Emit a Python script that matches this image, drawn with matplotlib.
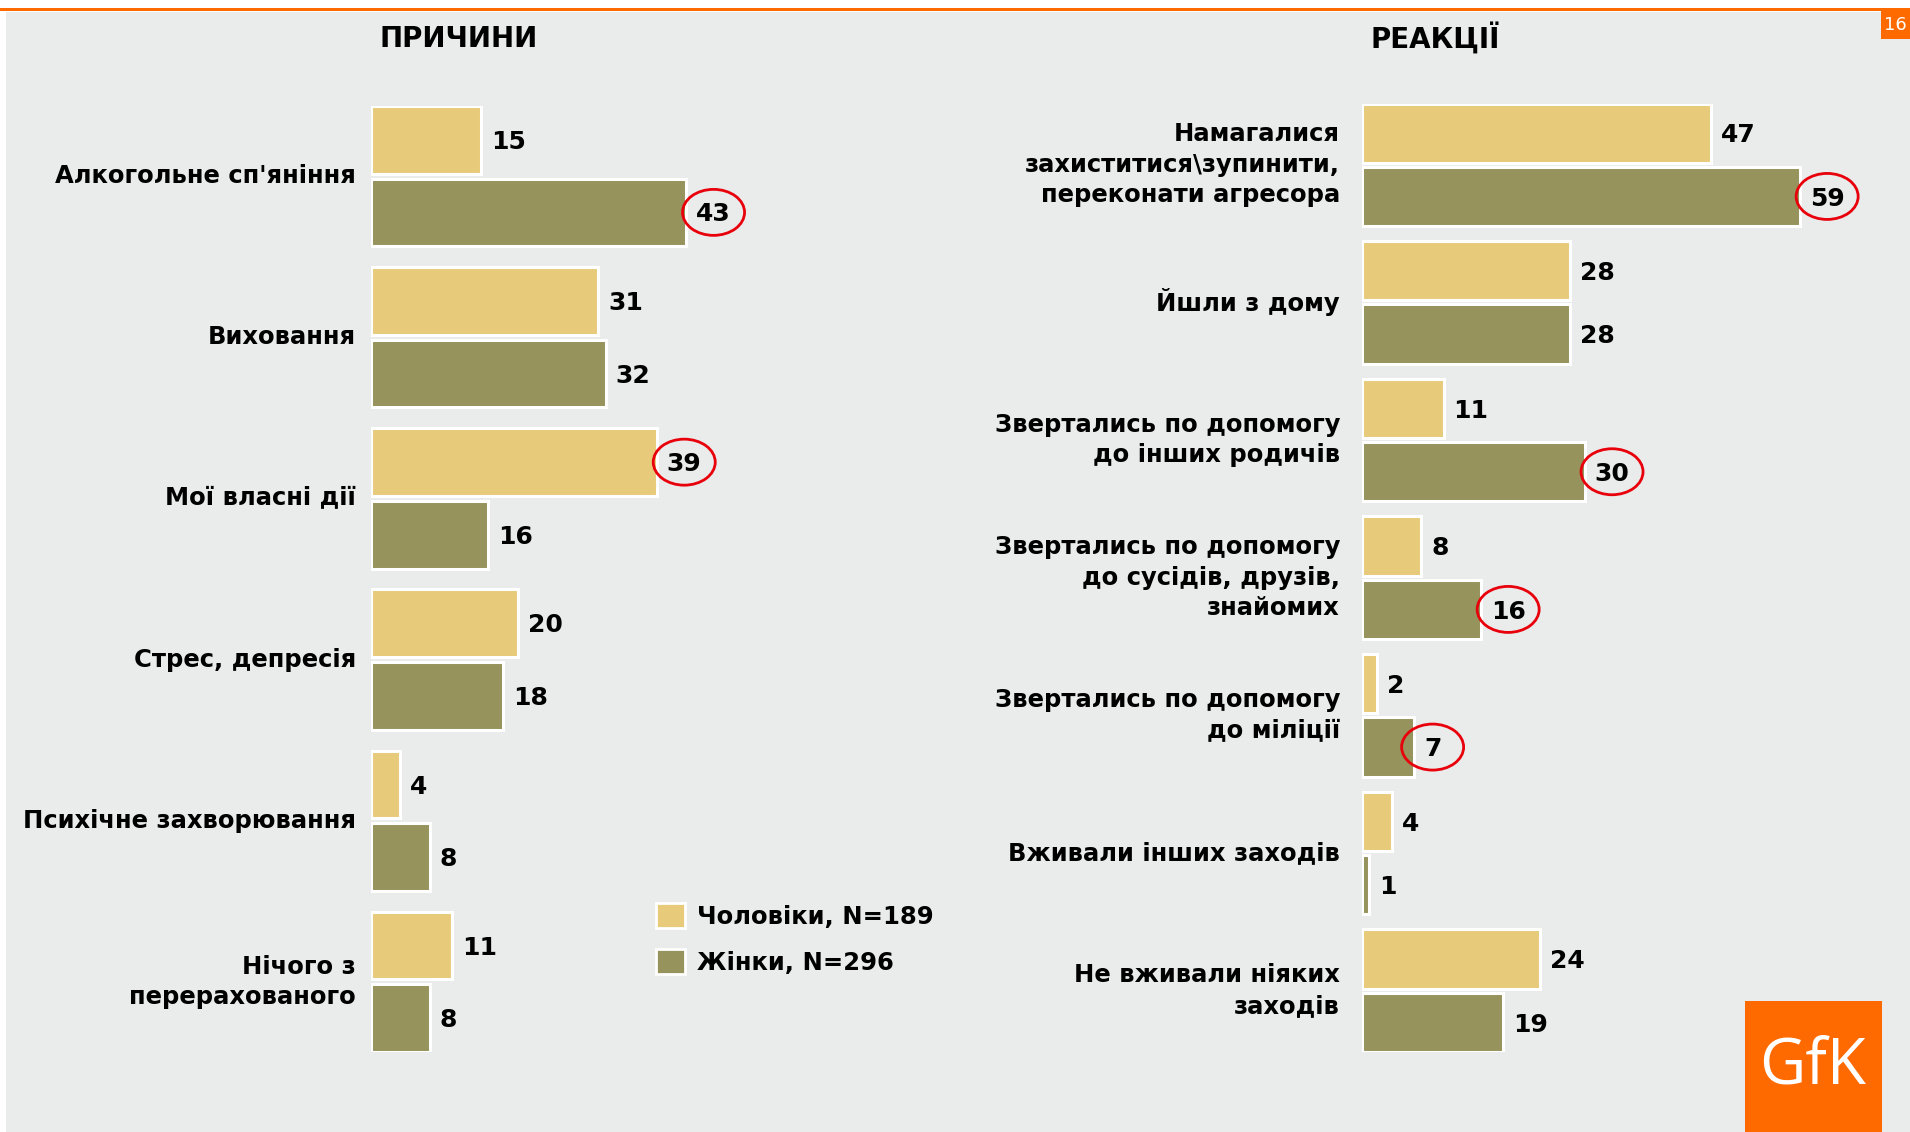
import matplotlib
matplotlib.use("Agg")
import matplotlib.pyplot as plt
from matplotlib.patches import Rectangle, Ellipse, Patch
from matplotlib.transforms import ScaledTranslation

plt.rcParams['font.family'] = ['DejaVu Sans']

# ---------------- data ----------------
left_title = "ПРИЧИНИ"
left_categories = ["Алкогольне сп'яніння", "Виховання", "Мої власні дії",
                   "Стрес, депресія", "Психічне захворювання",
                   "Нічого з\nперерахованого"]
left_men = [15, 31, 39, 20, 4, 11]
left_women = [43, 32, 16, 18, 8, 8]
left_highlight = [("women", 0), ("men", 2)]

right_title = "РЕАКЦІЇ"
right_categories = ["Намагалися\nзахиститися\\зупинити,\nпереконати агресора",
                    "Йшли з дому",
                    "Звертались по допомогу\nдо інших родичів",
                    "Звертались по допомогу\nдо сусідів, друзів,\nзнайомих",
                    "Звертались по допомогу\nдо міліції",
                    "Вживали інших заходів",
                    "Не вживали ніяких\nзаходів"]
right_men = [47, 28, 11, 8, 2, 4, 24]
right_women = [59, 28, 30, 16, 7, 1, 19]
right_highlight = [("women", 0), ("women", 2), ("women", 3), ("women", 4)]

legend_labels = ["Чоловіки, N=189", "Жінки, N=296"]
page_number = "16"
logo_text = "GfK"

# ---------------- style ----------------
W, H = 1910, 1132
DPI = 100
BG = '#EAECEB'
ORANGE = '#FF6A00'
MEN_C = '#E8CB7A'
WOMEN_C = '#96935C'
CAT_FS = 17.5
VAL_FS = 18
PX2PT = 72.0 / DPI

fig = plt.figure(figsize=(W / DPI, H / DPI), dpi=DPI, facecolor=BG)

# background decorations
bg = fig.add_axes([0, 0, 1, 1], zorder=-5)
bg.set_xlim(0, W)
bg.set_ylim(H, 0)
bg.axis('off')
bg.add_patch(Rectangle((0, 0), 6, H, color='white', lw=0))
bg.add_patch(Rectangle((0, 0), W, 8, color='white', lw=0))
bg.add_patch(Rectangle((0, 8), W, 2.5, color=ORANGE, lw=0))
bg.add_patch(Rectangle((0, 10.5), W, 1.5, color='white', lw=0))
bg.add_patch(Rectangle((1881, 10), W - 1881, 29, color=ORANGE, lw=0))
bg.text(1884, 25, page_number, color='white', fontsize=13, ha='left', va='center')
bg.add_patch(Rectangle((1745, 1001), 137, H - 1001, color=ORANGE, lw=0))
bg.text(1813, 1067, logo_text, color='white', fontsize=46, family='Open Sans',
        ha='center', va='center')
bg.text(459, 39, left_title, fontsize=20, fontweight='bold', ha='center', va='center')
bg.text(1435, 39, right_title, fontsize=20, fontweight='bold', ha='center', va='center')


def px_axes(x0, y0, x1, y1):
    return fig.add_axes([x0 / W, 1 - y1 / H, (x1 - x0) / W, (y1 - y0) / H])


def draw_panel(ax, cats, men, women, xmax, bar_h, label_pad_px):
    n = len(cats)
    ys = list(range(n))
    off = bar_h / 2 + 0.015
    ax.barh([y - off for y in ys], men, height=bar_h, color=MEN_C,
            edgecolor='white', linewidth=2.2)
    ax.barh([y + off for y in ys], women, height=bar_h, color=WOMEN_C,
            edgecolor='white', linewidth=2.2)
    edge = off + bar_h / 2
    ax.set_xlim(0, xmax)
    ax.set_ylim(n - 1 + edge, -edge)
    ax.axis('off')
    texts = {"men": [], "women": []}
    for key, vals, sgn in (("men", men, -1), ("women", women, 1)):
        for y, v in zip(ys, vals):
            t = ax.annotate(str(v), xy=(v, y + sgn * off),
                            xytext=(10 * PX2PT, -0.365 * VAL_FS),
                            textcoords='offset points', ha='left', va='baseline',
                            fontsize=VAL_FS, fontweight='bold', annotation_clip=False)
            texts[key].append((t, v, y + sgn * off))
    for y, c in zip(ys, cats):
        ax.annotate(c, xy=(0, y), xytext=(-label_pad_px * PX2PT, 0),
                    textcoords='offset points', ha='right', va='center',
                    multialignment='right', fontsize=CAT_FS, fontweight='bold',
                    linespacing=1.35, annotation_clip=False)
    return texts


axL = px_axes(371, 106, 371 + 7.33 * 60, 1052)
txL = draw_panel(axL, left_categories, left_men, left_women, 60, 0.42, 15)

axR = px_axes(1362, 103.5, 1362 + 7.42 * 70, 1052)
txR = draw_panel(axR, right_categories, right_men, right_women, 70, 0.43, 22)

# legend
handles = [Patch(facecolor=MEN_C, edgecolor='white', linewidth=2),
           Patch(facecolor=WOMEN_C, edgecolor='white', linewidth=2)]
fig.legend(handles, legend_labels, loc='upper left',
           bbox_to_anchor=(656 / W, 1 - 903 / H), frameon=False,
           prop={'size': CAT_FS, 'weight': 'bold'}, handlelength=1.2,
           handleheight=1.2, handletextpad=0.5, labelspacing=0.85,
           borderpad=0, borderaxespad=0)

# red ellipses around highlighted values
fig.canvas.draw()
renderer = fig.canvas.get_renderer()
for ax, texts, hl in ((axL, txL, left_highlight), (axR, txR, right_highlight)):
    for key, idx in hl:
        t, v, yb = texts[key][idx]
        bb = t.get_window_extent(renderer)
        cx = (bb.x0 + bb.x1) / 2
        ax_x = ax.transData.transform((v, yb))[0]
        dx_in = (cx - ax_x) / DPI
        tr = fig.dpi_scale_trans + ScaledTranslation(v, yb, ax.transData)
        e = Ellipse((dx_in, 0), 62 / DPI, 46 / DPI, transform=tr, fill=False,
                    edgecolor='#E8000B', linewidth=2.0, clip_on=False)
        fig.add_artist(e)

fig.savefig("out.png", dpi=DPI, facecolor=BG)
